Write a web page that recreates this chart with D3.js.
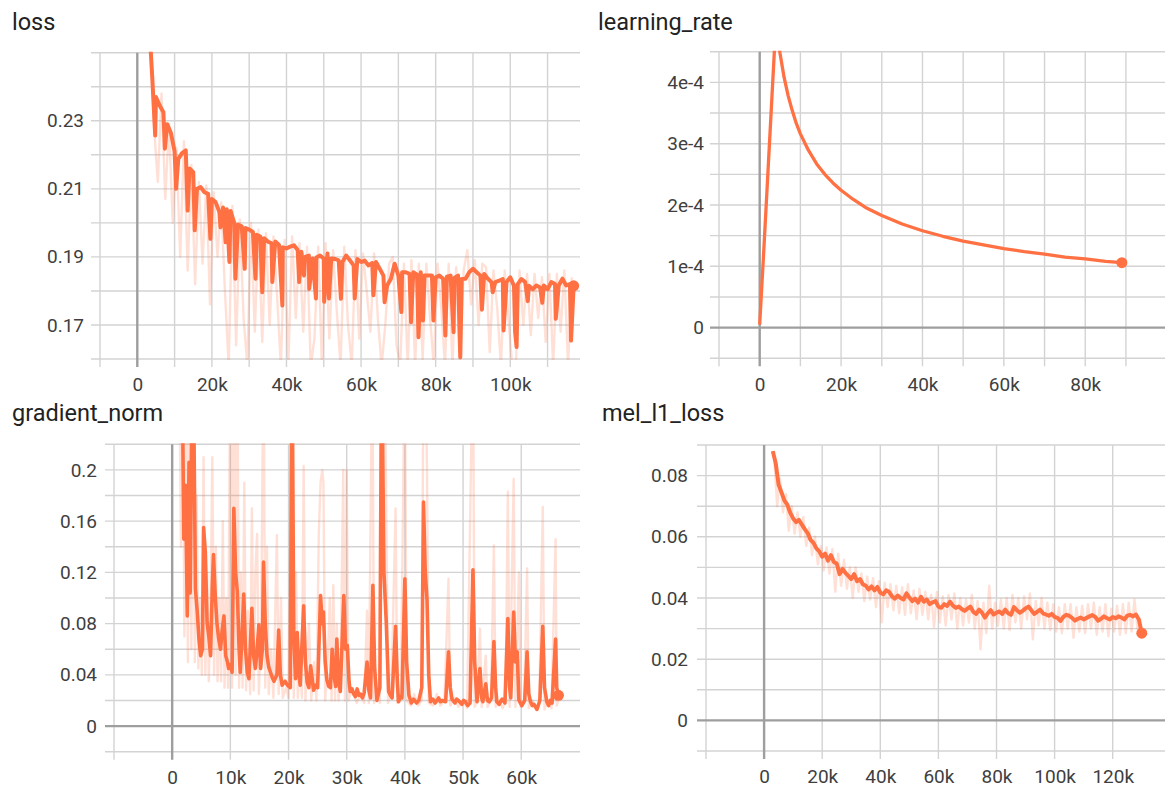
<!DOCTYPE html>
<html><head><meta charset="utf-8">
<script src="https://cdn.jsdelivr.net/npm/d3@7"></script>
<style>body{margin:0;background:#fff}svg{display:block}</style>
</head><body><svg id="c" width="1165" height="789"></svg>
<script>
// ---------------- DATA ----------------
// loss: smoothed trend every 1k steps from 3k, plus narrow dips [step, value]; raw every 1k from 3.5k
const lossSmoothStart = 3000, lossRawStart = 3500, lossStepSize = 1000;
const lossSmoothBase = [0.262,0.243,0.237,0.2345,0.2325,0.229,0.2265,0.221,0.2188,0.2205,
0.2213,0.216,0.2149,0.210,0.2105,0.209,0.2085,0.207,0.2061,0.2032,
0.2045,0.204,0.2035,0.200,0.1995,0.199,0.1985,0.198,0.1973,0.1965,
0.196,0.1955,0.1945,0.194,0.1945,0.1935,0.1928,0.1925,0.193,0.1934,
0.192,0.1915,0.190,0.1904,0.1895,0.1898,0.1904,0.1895,0.191,0.1895,
0.1894,0.189,0.1885,0.1904,0.189,0.1875,0.1894,0.1885,0.1889,0.1875,
0.1882,0.1885,0.1865,0.1845,0.1816,0.1836,0.188,0.1845,0.1855,0.1855,
0.185,0.1855,0.1848,0.1855,0.1845,0.1845,0.1845,0.184,0.1845,0.1836,
0.1842,0.1845,0.1838,0.1845,0.1835,0.1836,0.1855,0.1865,0.1855,0.1845,
0.185,0.1836,0.1825,0.1826,0.183,0.1835,0.1826,0.184,0.1815,0.182,
0.1835,0.1826,0.1815,0.1805,0.1816,0.181,0.1816,0.1805,0.1826,0.182,
0.1816,0.1836,0.1816,0.182,0.1815];
const lossSmoothDips = [[4800,0.2257],[7400,0.2218],[10400,0.2100],[13500,0.2036],[15400,0.1978],[19600,0.1953],[22300,0.1987],[23700,0.1943],[24700,0.1885],[26300,0.1836],[28800,0.1865],[31700,0.1836],[33500,0.1796],[36200,0.1826],[38900,0.1757],[43400,0.1826],[44700,0.1845],[46100,0.1806],[47900,0.1778],[50100,0.1768],[51400,0.1778],[54600,0.1777],[58300,0.1778],[63300,0.1787],[66300,0.1767],[70800,0.1738],[73400,0.1708],[75400,0.1664],[76600,0.1713],[79400,0.1713],[82600,0.1669],[84800,0.1679],[86600,0.1605],[92400,0.1745],[95300,0.1796],[98200,0.1684],[101300,0.1680],[101700,0.1635],[104700,0.1770],[108600,0.1765],[112200,0.1718],[116300,0.1654]];
const lossRaw = [0.255,0.228,0.212,0.238,0.207,0.229,0.200,0.222,0.190,0.224,
0.186,0.217,0.182,0.212,0.188,0.211,0.176,0.209,0.190,0.206,
0.180,0.158,0.205,0.164,0.201,0.172,0.158,0.200,0.168,0.198,
0.165,0.197,0.170,0.196,0.178,0.158,0.195,0.158,0.196,0.172,
0.194,0.168,0.193,0.158,0.166,0.193,0.158,0.194,0.166,0.192,
0.174,0.158,0.193,0.170,0.158,0.192,0.166,0.191,0.180,0.168,
0.191,0.172,0.158,0.170,0.188,0.190,0.164,0.158,0.188,0.158,
0.189,0.158,0.188,0.160,0.188,0.172,0.158,0.188,0.175,0.158,
0.188,0.158,0.187,0.158,0.186,0.192,0.176,0.189,0.170,0.188,
0.187,0.162,0.186,0.175,0.158,0.186,0.172,0.158,0.158,0.186,
0.170,0.185,0.167,0.185,0.172,0.184,0.165,0.185,0.158,0.185,
0.168,0.186,0.158,0.184];

// learning rate
const lrSteps = [0,1000,2000,3000,4000,5000,6000,7000,8000,9000,10000,12000,14000,16000,18000,20000,23000,26000,30000,35000,40000,45000,50000,55000,60000,65000,70000,75000,80000,85000,89000];
const lrValues = [0.05e-4,1.25e-4,2.5e-4,3.75e-4,5.0e-4,4.47e-4,4.08e-4,3.78e-4,3.54e-4,3.33e-4,3.16e-4,2.89e-4,2.67e-4,2.50e-4,2.36e-4,2.24e-4,2.09e-4,1.96e-4,1.83e-4,1.69e-4,1.58e-4,1.49e-4,1.41e-4,1.35e-4,1.29e-4,1.24e-4,1.20e-4,1.15e-4,1.12e-4,1.08e-4,1.06e-4];

// gradient norm: [step, value]
const gradSmooth = [[1500,0.30],[1800,0.24],[2000,0.146],[2300,0.188],[2600,0.086],[2900,0.206],[3100,0.104],[3400,0.26],[3700,0.25],[4000,0.107],[4300,0.09],[4600,0.068],[4900,0.055],[5200,0.06],[5400,0.155],[5700,0.136],[6000,0.081],[6300,0.07],[6600,0.055],[6900,0.11],[7100,0.134],[7400,0.102],[7700,0.08],[8000,0.068],[8300,0.06],[8600,0.075],[8900,0.086],[9200,0.055],[9500,0.05],[9700,0.045],[10000,0.048],[10300,0.042],[10600,0.17],[10900,0.12],[11200,0.105],[11500,0.06],[11700,0.042],[12000,0.07],[12300,0.103],[12600,0.06],[12900,0.042],[13200,0.037],[13700,0.092],[14000,0.055],[14300,0.045],[14600,0.06],[14900,0.079],[15200,0.045],[15500,0.06],[15700,0.128],[16000,0.08],[16300,0.055],[16600,0.046],[16900,0.042],[17200,0.038],[17500,0.035],[18000,0.04],[18300,0.075],[18600,0.04],[18900,0.032],[19400,0.035],[19800,0.032],[20300,0.03],[20600,0.30],[20900,0.07],[21200,0.037],[21500,0.073],[21800,0.04],[22000,0.032],[22600,0.094],[22900,0.05],[23200,0.034],[23500,0.03],[23800,0.047],[24300,0.028],[24700,0.032],[25000,0.03],[25500,0.102],[25800,0.08],[26000,0.089],[26300,0.05],[26600,0.036],[26900,0.031],[27200,0.03],[27500,0.06],[27800,0.04],[28100,0.031],[28300,0.068],[28600,0.035],[28900,0.027],[29500,0.102],[29800,0.06],[30100,0.063],[30400,0.035],[30600,0.027],[30900,0.029],[31200,0.025],[31500,0.023],[31800,0.029],[32100,0.024],[32400,0.025],[32700,0.022],[33000,0.026],[33500,0.05],[33800,0.028],[34100,0.022],[34500,0.11],[34800,0.045],[35200,0.02],[35700,0.03],[36000,0.30],[36400,0.12],[36800,0.081],[37200,0.027],[37500,0.024],[37800,0.022],[38400,0.078],[38700,0.035],[38900,0.019],[39200,0.023],[39500,0.022],[40000,0.115],[40300,0.05],[40700,0.024],[41100,0.018],[41500,0.021],[42000,0.018],[42400,0.02],[42900,0.03],[43200,0.175],[43500,0.12],[43800,0.099],[44100,0.04],[44400,0.019],[44800,0.021],[45200,0.018],[45800,0.022],[46100,0.019],[46400,0.02],[47000,0.019],[47500,0.058],[47800,0.03],[48100,0.021],[48600,0.018],[48900,0.021],[49200,0.02],[49800,0.017],[50100,0.02],[50400,0.019],[50800,0.016],[51200,0.018],[51700,0.122],[52000,0.05],[52400,0.019],[52900,0.045],[53200,0.022],[53400,0.019],[53900,0.033],[54200,0.02],[54500,0.019],[54900,0.022],[55300,0.066],[55600,0.03],[55800,0.019],[56200,0.017],[56700,0.021],[57200,0.018],[57700,0.084],[58000,0.03],[58200,0.022],[58700,0.089],[59000,0.05],[59300,0.058],[59600,0.02],[60100,0.016],[60600,0.02],[61000,0.058],[61300,0.025],[61600,0.019],[61900,0.016],[62200,0.017],[62700,0.013],[63200,0.02],[63700,0.078],[64000,0.03],[64400,0.019],[64700,0.016],[65000,0.02],[65300,0.018],[65900,0.068],[66100,0.03],[66400,0.024]];
const gradRaw = [[1200,0.30],[1500,0.14],[1800,0.30],[2100,0.07],[2400,0.30],[2700,0.05],[3000,0.30],[3300,0.06],[3600,0.30],[3900,0.05],[4200,0.18],[4500,0.045],[4800,0.10],[5100,0.04],[5400,0.21],[5700,0.04],[6000,0.12],[6300,0.035],[6600,0.09],[6900,0.21],[7200,0.04],[7500,0.14],[7800,0.035],[8100,0.10],[8400,0.035],[8700,0.16],[9000,0.03],[9300,0.10],[9600,0.03],[10000,0.30],[10300,0.03],[10600,0.30],[10900,0.04],[11200,0.30],[11500,0.03],[11800,0.12],[12100,0.03],[12400,0.19],[12700,0.028],[13000,0.09],[13400,0.025],[13700,0.17],[14000,0.028],[14300,0.12],[14600,0.15],[14900,0.025],[15300,0.08],[15700,0.30],[16000,0.03],[16300,0.14],[16600,0.025],[17000,0.06],[17400,0.022],[18000,0.149],[18300,0.025],[18700,0.10],[19000,0.022],[19600,0.03],[20000,0.022],[20600,0.30],[20900,0.022],[21300,0.12],[21600,0.022],[22000,0.05],[22300,0.022],[22600,0.203],[22900,0.02],[23500,0.08],[23900,0.02],[24400,0.05],[24800,0.02],[25200,0.15],[25500,0.19],[25800,0.20],[26000,0.19],[26300,0.02],[26800,0.06],[27100,0.10],[27400,0.02],[27700,0.11],[28000,0.02],[28300,0.08],[28600,0.02],[29000,0.06],[29400,0.20],[29700,0.02],[30000,0.20],[30300,0.02],[31000,0.03],[31700,0.018],[32400,0.025],[33000,0.018],[33500,0.09],[33800,0.018],[34400,0.30],[34700,0.018],[35200,0.03],[35700,0.018],[36100,0.30],[36400,0.30],[36800,0.175],[37100,0.018],[37700,0.03],[38400,0.17],[38700,0.018],[39300,0.02],[40000,0.30],[40300,0.02],[41000,0.016],[41600,0.025],[42300,0.016],[42900,0.02],[43200,0.30],[43500,0.30],[43800,0.20],[44100,0.018],[44800,0.016],[45500,0.025],[46100,0.016],[46800,0.02],[47500,0.115],[47800,0.016],[48500,0.022],[49200,0.015],[50000,0.02],[50700,0.014],[51700,0.30],[52000,0.015],[52400,0.02],[52900,0.076],[53200,0.015],[53900,0.055],[54200,0.015],[54800,0.02],[55300,0.141],[55600,0.015],[56200,0.02],[56800,0.014],[57300,0.02],[57700,0.183],[58000,0.015],[58700,0.193],[59000,0.015],[59600,0.12],[59900,0.015],[60500,0.018],[61000,0.123],[61300,0.014],[61900,0.02],[62500,0.013],[63100,0.018],[63700,0.171],[64000,0.013],[64600,0.02],[65200,0.014],[65900,0.146],[66100,0.016],[66400,0.02]];

// mel_l1_loss: smoothed every 1k from 3k, raw every 1k from 3.5k
const melSmoothStart = 3000, melRawStart = 3500, melStepSize = 1000;
const melSmooth = [0.0880,0.0840,0.0770,0.0745,0.0718,0.0705,0.0678,0.0660,0.0648,0.0655,
0.0640,0.0625,0.0612,0.0590,0.0580,0.0562,0.0552,0.0535,0.0545,0.0522,
0.0540,0.0518,0.0512,0.0478,0.0495,0.0482,0.0472,0.0462,0.0478,0.0455,
0.0462,0.0445,0.0440,0.0428,0.0438,0.0425,0.0436,0.0418,0.0412,0.0425,
0.0420,0.0406,0.0398,0.0408,0.0400,0.0395,0.0415,0.0402,0.0390,0.0398,
0.0385,0.0404,0.0388,0.0395,0.0380,0.0386,0.0390,0.0372,0.0368,0.0380,
0.0374,0.0388,0.0375,0.0368,0.0372,0.0364,0.0358,0.0365,0.0372,0.0355,
0.0348,0.0362,0.0352,0.0336,0.0350,0.0360,0.0346,0.0352,0.0356,0.0348,
0.0362,0.0350,0.0345,0.0370,0.0360,0.0352,0.0358,0.0366,0.0372,0.0360,
0.0348,0.0355,0.0362,0.0350,0.0346,0.0342,0.0348,0.0338,0.0335,0.0325,
0.0338,0.0345,0.0342,0.0335,0.0326,0.0332,0.0336,0.0330,0.0335,0.0340,
0.0344,0.0338,0.0326,0.0332,0.0340,0.0334,0.0330,0.0338,0.0334,0.0340,
0.0336,0.0330,0.0342,0.0345,0.0340,0.0346,0.0330,0.0285];
const melRaw = [0.0860,0.0700,0.0790,0.0680,0.0740,0.0620,0.0700,0.0610,0.0680,0.0600,
0.0665,0.0570,0.0630,0.0540,0.0600,0.0510,0.0570,0.0490,0.0565,0.0480,
0.0560,0.0420,0.0545,0.0440,0.0525,0.0430,0.0500,0.0400,0.0500,0.0420,
0.0480,0.0390,0.0470,0.0395,0.0465,0.0370,0.0455,0.0320,0.0450,0.0370,
0.0445,0.0360,0.0440,0.0350,0.0435,0.0345,0.0445,0.0350,0.0425,0.0330,
0.0430,0.0345,0.0420,0.0330,0.0410,0.0305,0.0420,0.0320,0.0405,0.0310,
0.0410,0.0330,0.0415,0.0300,0.0400,0.0310,0.0395,0.0320,0.0410,0.0300,
0.0390,0.0232,0.0385,0.0285,0.0440,0.0300,0.0385,0.0310,0.0395,0.0300,
0.0400,0.0295,0.0410,0.0320,0.0400,0.0300,0.0405,0.0330,0.0415,0.0265,
0.0390,0.0310,0.0400,0.0300,0.0385,0.0295,0.0380,0.0290,0.0370,0.0285,
0.0380,0.0300,0.0380,0.0270,0.0370,0.0290,0.0375,0.0285,0.0380,0.0300,
0.0385,0.0280,0.0370,0.0290,0.0380,0.0275,0.0365,0.0290,0.0375,0.0280,
0.0380,0.0285,0.0385,0.0290,0.0395,0.0300,0.0330];

// tick labels
const lossXTicks = [0,20000,40000,60000,80000,100000], lossXLabels = ["0","20k","40k","60k","80k","100k"];
const lossYTicks = [0.17,0.19,0.21,0.23], lossYLabels = ["0.17","0.19","0.21","0.23"];
const lrXTicks = [0,20000,40000,60000,80000], lrXLabels = ["0","20k","40k","60k","80k"];
const lrYTicks = [0,1e-4,2e-4,3e-4,4e-4], lrYLabels = ["0","1e-4","2e-4","3e-4","4e-4"];
const gradXTicks = [0,10000,20000,30000,40000,50000,60000], gradXLabels = ["0","10k","20k","30k","40k","50k","60k"];
const gradYTicks = [0,0.04,0.08,0.12,0.16,0.2], gradYLabels = ["0","0.04","0.08","0.12","0.16","0.2"];
const melXTicks = [0,20000,40000,60000,80000,100000,120000], melXLabels = ["0","20k","40k","60k","80k","100k","120k"];
const melYTicks = [0,0.02,0.04,0.06,0.08], melYLabels = ["0","0.02","0.04","0.06","0.08"];

const titles = ["loss","learning_rate","gradient_norm","mel_l1_loss"];

// ---------------- DRAW ----------------
const FONT = "Roboto, 'Noto Sans', Arial, sans-serif";
const ORANGE = "#ff7043";
const svg = d3.select("#c");
const defs = svg.append("defs");

const regular = (start, step, vals) => vals.map((v,i)=>[start + i*step, v]);
const lossSmooth = regular(lossSmoothStart, lossStepSize, lossSmoothBase)
  .concat(lossSmoothDips).sort((a,b)=>a[0]-b[0]);

function panel(p){
  const x = d3.scaleLinear().domain(p.xDomain).range([p.left, p.right]);
  const y = d3.scaleLinear().domain(p.yDomain).range([p.bottom, p.top]);
  const g = svg.append("g");
  const cid = "clip-" + p.key;
  defs.append("clipPath").attr("id", cid).append("rect")
    .attr("x", p.left).attr("y", p.top - 1).attr("width", p.right - p.left).attr("height", p.bottom - p.top + 2);

  const isZero = d => Math.abs(d) < 1e-12;
  g.append("g").selectAll("line").data(p.xGrid.filter(d=>!isZero(d))).join("line")
    .attr("x1", d=>x(d)).attr("x2", d=>x(d)).attr("y1", p.top).attr("y2", p.bottom + 8)
    .attr("stroke", "#d3d3d3").attr("stroke-width", 1.4);
  g.append("g").selectAll("line").data(p.yGrid.filter(d=>!isZero(d))).join("line")
    .attr("x1", p.left - 9).attr("x2", p.right).attr("y1", d=>y(d)).attr("y2", d=>y(d))
    .attr("stroke", "#d3d3d3").attr("stroke-width", 1.4);
  g.append("g").selectAll("line").data(p.yGrid.filter(isZero)).join("line")
    .attr("x1", p.left - 9).attr("x2", p.right).attr("y1", d=>y(d)).attr("y2", d=>y(d))
    .attr("stroke", "#9e9e9e").attr("stroke-width", 2.4);
  g.append("g").selectAll("line").data(p.xGrid.filter(isZero)).join("line")
    .attr("x1", d=>x(d)).attr("x2", d=>x(d)).attr("y1", p.top).attr("y2", p.bottom + 8)
    .attr("stroke", "#9e9e9e").attr("stroke-width", 2.4);

  const ax = d3.axisBottom(x).tickValues(p.xTicks).tickFormat((d,i)=>p.xLabels[i]).tickSize(0).tickPadding(19);
  const gx = g.append("g").attr("transform", `translate(0,${p.bottom})`).call(ax);
  gx.select(".domain").remove();
  gx.selectAll("text").attr("font-size", 19).attr("font-family", FONT).attr("fill", "#3f3f3f");
  const ay = d3.axisLeft(y).tickValues(p.yTicks).tickFormat((d,i)=>p.yLabels[i]).tickSize(0).tickPadding(p.yPad);
  const gy = g.append("g").attr("transform", `translate(${p.left},0)`).call(ay);
  gy.select(".domain").remove();
  gy.selectAll("text").attr("font-size", 19).attr("font-family", FONT).attr("fill", "#3f3f3f");

  const line = d3.line().x(d=>x(d[0])).y(d=>y(d[1]));
  const plot = g.append("g").attr("clip-path", `url(#${cid})`);
  if (p.raw) plot.append("path").datum(p.raw).attr("d", line).attr("fill", "none")
    .attr("stroke", ORANGE).attr("stroke-opacity", 0.22).attr("stroke-width", 2.4).attr("stroke-linejoin", "round");
  plot.append("path").datum(p.smooth).attr("d", line).attr("fill", "none")
    .attr("stroke", ORANGE).attr("stroke-width", p.sw).attr("stroke-linejoin", "round");
  const last = p.smooth[p.smooth.length - 1];
  g.append("circle").attr("cx", x(last[0])).attr("cy", y(last[1])).attr("r", 5.5).attr("fill", ORANGE);

  g.append("text").attr("x", p.tx).attr("y", p.ty).text(p.title)
    .attr("font-family", FONT).attr("font-size", 23.5).attr("fill", "#222");
}

panel({key:"loss", title:titles[0], tx:12, ty:30,
  left:100, right:580, top:52.7, bottom:359,
  xDomain:[-10000,118700], yDomain:[0.16,0.25],
  xGrid:d3.range(-10000,110001,10000), yGrid:d3.range(0,10).map(i=>0.16+i*0.01),
  xTicks:lossXTicks, xLabels:lossXLabels, yTicks:lossYTicks, yLabels:lossYLabels, yPad:16,
  smooth:lossSmooth, raw:regular(lossRawStart, lossStepSize, lossRaw), sw:4});

panel({key:"lr", title:titles[1], tx:598, ty:30,
  left:719, right:1165, top:51.7, bottom:358.3,
  xDomain:[-10000,99600], yDomain:[-0.5e-4,4.5e-4],
  xGrid:d3.range(-10000,90001,10000), yGrid:d3.range(0,11).map(i=>-0.5e-4+i*0.5e-4),
  xTicks:lrXTicks, xLabels:lrXLabels, yTicks:lrYTicks, yLabels:lrYLabels, yPad:15,
  smooth:lrSteps.map((s,i)=>[s, lrValues[i]]), raw:null, sw:3.3});

panel({key:"grad", title:titles[2], tx:12, ty:421,
  left:114, right:580, top:444.3, bottom:751.7,
  xDomain:[-10000,70100], yDomain:[-0.02,0.22],
  xGrid:d3.range(-10000,60001,10000), yGrid:d3.range(0,13).map(i=>-0.02+i*0.02),
  xTicks:gradXTicks, xLabels:gradXLabels, yTicks:gradYTicks, yLabels:gradYLabels, yPad:17,
  smooth:gradSmooth, raw:gradRaw, sw:3.6});

panel({key:"mel", title:titles[3], tx:602, ty:421,
  left:706, right:1165, top:445, bottom:751,
  xDomain:[-20000,138000], yDomain:[-0.01,0.09],
  xGrid:d3.range(-20000,120001,20000), yGrid:d3.range(0,11).map(i=>-0.01+i*0.01),
  xTicks:melXTicks, xLabels:melXLabels, yTicks:melYTicks, yLabels:melYLabels, yPad:18,
  smooth:regular(melSmoothStart, melStepSize, melSmooth), raw:regular(melRawStart, melStepSize, melRaw), sw:4});
</script>
</body></html>
